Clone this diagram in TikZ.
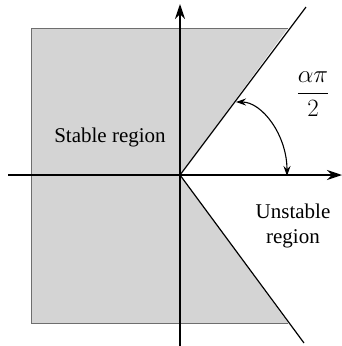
\documentclass[tikz,border=0pt]{standalone}
\usepackage{fontspec}
\setmainfont{Liberation Serif}
\usetikzlibrary{arrows.meta}
\definecolor{regiongray}{RGB}{212,212,212}
\definecolor{edgegray}{RGB}{110,110,110}
\begin{document}
\begin{tikzpicture}[x=1pt,y=-1pt,
  axis/.style={line width=1.3pt,-{Stealth[length=15pt,width=10pt]}},
  bound/.style={line width=1.2pt},
  anglearrow/.style={line width=1.1pt,{Stealth[length=10pt,width=7pt]}-{Stealth[length=10pt,width=7pt]}},
  lbl/.style={font=\fontsize{21}{25}\selectfont,align=center,inner sep=0pt}]
\useasboundingbox (0,0) rectangle (342,346);
\coordinate (O) at (180,175);
\coordinate (TL) at (31,28);
\coordinate (TR) at (288,28);
\coordinate (BR) at (288,323);
\coordinate (BL) at (31,323);
\coordinate (Uend) at (306,7);
\coordinate (Lend) at (304,343);
\coordinate (Xl) at (8,175);
\coordinate (Xr) at (342,175);
\coordinate (Yb) at (180,346);
\coordinate (Yt) at (180,4);
\coordinate (Aup) at (236,102);
\coordinate (Adn) at (287,176);
\fill[regiongray] (TL) -- (TR) -- (O) -- (BR) -- (BL) -- cycle;
\draw[edgegray,line width=0.8pt] (TR) -- (TL) -- (BL) -- (BR);
\draw[bound] (O) -- (Uend);
\draw[bound] (O) -- (Lend);
\draw[axis] (Xl) -- (Xr);
\draw[axis] (Yb) -- (Yt);
\draw[anglearrow] (Aup) .. controls (262,102) and (287,135) .. (Adn);
\node[lbl] (stable) at (110,137) {Stable region};
\node[lbl] (unstable) at (293,226) {Unstable\\region};
\node[inner sep=0pt,font=\fontsize{26}{30}\selectfont] (frac) at (313,94) {$\displaystyle\frac{\alpha\pi}{2}$};
\end{tikzpicture}
\end{document}
